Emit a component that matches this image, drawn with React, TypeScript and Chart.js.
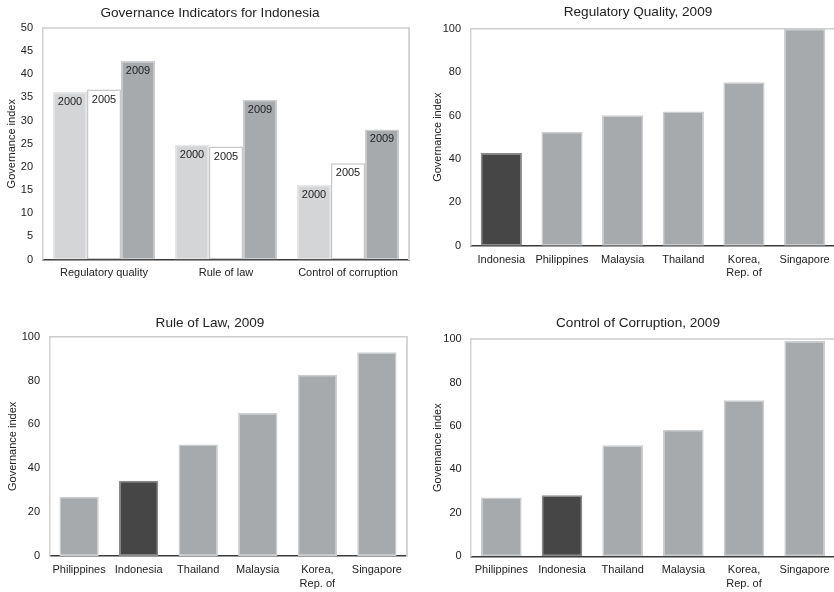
import React, { useEffect, useRef } from 'react';
import { Chart, registerables } from 'chart.js';

Chart.register(...registerables);

const FONT = "'Liberation Sans', Arial, Helvetica, sans-serif";
Chart.defaults.font.family = FONT;

// ---------- data ----------
const indicatorCategories = ['Regulatory quality', 'Rule of law', 'Control of corruption'];
const yearLabels = ['2000', '2005', '2009'];
const indonesia2000 = [36.2, 24.8, 16.1];
const indonesia2005 = [36.7, 24.4, 20.8];
const indonesia2009 = [42.9, 34.5, 28.1];
const indicatorTicks = [0, 5, 10, 15, 20, 25, 30, 35, 40, 45, 50];

const rqCountries: (string | string[])[] = ['Indonesia', 'Philippines', 'Malaysia', 'Thailand', ['Korea,', 'Rep. of'], 'Singapore'];
const rqValues = [42.7, 52.5, 60.1, 61.9, 75.3, 100];

const rolCountries: (string | string[])[] = ['Philippines', 'Indonesia', 'Thailand', 'Malaysia', ['Korea,', 'Rep. of'], 'Singapore'];
const rolValues = [27.0, 34.3, 50.9, 65.2, 82.7, 92.9];

const cocCountries: (string | string[])[] = ['Philippines', 'Indonesia', 'Thailand', 'Malaysia', ['Korea,', 'Rep. of'], 'Singapore'];
const cocValues = [27.1, 28.1, 51.1, 58.3, 71.8, 99.1];

const countryTicks = [0, 20, 40, 60, 80, 100];

// ---------- styles ----------
const C_LIGHT = '#d4d5d7';
const C_WHITE = '#ffffff';
const C_MID = '#a7aaad';
const C_DARK = '#464646';
const TITLE_SIZE = 13.6;

function countryColors(labels: (string | string[])[]) {
  return labels.map((l) => (l === 'Indonesia' ? C_DARK : C_MID));
}
function countryBorders(labels: (string | string[])[]) {
  return labels.map((l) => (l === 'Indonesia' ? '#8a8a8a' : '#cbcdcf'));
}

const framePlugin = {
  id: 'frameTop',
  beforeDatasetsDraw(chart: any) {
    const { ctx, chartArea: a } = chart;
    ctx.save();
    ctx.strokeStyle = '#cdcdcd';
    ctx.lineWidth = 1.5;
    ctx.beginPath();
    ctx.moveTo(a.left, a.top);
    ctx.lineTo(a.right, a.top);
    ctx.stroke();
    ctx.restore();
  },
};

const barLabelPlugin = {
  id: 'barLabels',
  afterDatasetsDraw(chart: any, _args: any, opts: any) {
    if (!opts || !opts.enabled) return;
    const { ctx } = chart;
    ctx.save();
    ctx.font = `11px ${FONT}`;
    ctx.fillStyle = '#222';
    ctx.textAlign = 'center';
    ctx.textBaseline = 'middle';
    chart.data.datasets.forEach((ds: any, i: number) => {
      const meta = chart.getDatasetMeta(i);
      meta.data.forEach((bar: any) => {
        ctx.fillText(ds.label, bar.x, bar.y + 10);
      });
    });
    ctx.restore();
  },
};

type Spec = {
  left: number;
  top: number;
  width: number;
  height: number;
  title: string;
  titlePadTop: number;
  titlePadBottom: number;
  yTitle: string;
  yTitlePad: number;
  yWidth: number;
  y2Width: number;
  xHeight: number;
  tickPad: number;
  yMax: number;
  yStep: number;
  labels: any[];
  datasets: any[];
  categoryPercentage: number;
  barPercentage: number;
  barLabels: boolean;
};

function Panel({ spec }: { spec: Spec }) {
  const ref = useRef<HTMLCanvasElement | null>(null);
  useEffect(() => {
    if (!ref.current) return;
    const chart = new Chart(ref.current, {
      type: 'bar',
      data: {
        labels: spec.labels,
        datasets: spec.datasets.map((d) => ({
          ...d,
          categoryPercentage: spec.categoryPercentage,
          barPercentage: spec.barPercentage,
          borderSkipped: false,
        })),
      },
      options: {
        responsive: false,
        animation: false,
        devicePixelRatio: 1,
        layout: { padding: 0 },
        plugins: {
          legend: { display: false },
          tooltip: { enabled: false },
          title: {
            display: true,
            text: spec.title,
            color: '#222',
            font: { size: TITLE_SIZE, weight: 'normal', family: FONT, lineHeight: 1.2 },
            padding: { top: spec.titlePadTop - 0.4, bottom: spec.titlePadBottom - 0.3 },
          },
          barLabels: { enabled: spec.barLabels },
        } as any,
        scales: {
          x: {
            grid: { display: false, drawTicks: false },
            border: { display: true, color: '#3a3a3a', width: 1.5 },
            ticks: {
              color: '#222',
              font: { size: 11, family: FONT, lineHeight: 1.25 },
              padding: 7,
              maxRotation: 0,
              autoSkip: false,
            },
            afterFit: (s: any) => {
              s.height = spec.xHeight;
            },
          },
          y: {
            min: 0,
            max: spec.yMax,
            grid: { display: false, drawTicks: false },
            border: { display: true, color: '#d2d2d2', width: 1.5 },
            ticks: {
              stepSize: spec.yStep,
              color: '#222',
              font: { size: 11, family: FONT },
              padding: spec.tickPad,
            },
            title: {
              display: true,
              text: spec.yTitle,
              color: '#222',
              font: { size: 11, family: FONT, lineHeight: 1.2 },
              padding: { top: spec.yTitlePad, bottom: 0 },
            },
            afterFit: (s: any) => {
              s.width = spec.yWidth;
            },
          },
          y2: {
            position: 'right',
            display: true,
            grid: { display: false, drawTicks: false },
            border: { display: true, color: '#d6d6d6', width: 2 },
            ticks: { display: false },
            afterFit: (s: any) => {
              s.width = spec.y2Width;
            },
          },
        },
      } as any,
      plugins: [framePlugin, barLabelPlugin],
    });
    return () => chart.destroy();
  }, []);
  return (
    <canvas
      ref={ref}
      width={spec.width}
      height={spec.height}
      style={{ position: 'absolute', left: spec.left, top: spec.top, width: spec.width, height: spec.height }}
    />
  );
}

const specs: Spec[] = [
  {
    left: 0,
    top: 0,
    width: 420,
    height: 292,
    title: 'Governance Indicators for Indonesia',
    titlePadTop: 5,
    titlePadBottom: 7.4,
    yTitle: 'Governance index',
    yTitlePad: 5,
    yWidth: 43,
    y2Width: 11,
    xHeight: 32.5,
    tickPad: 10,
    yMax: indicatorTicks[indicatorTicks.length - 1],
    yStep: indicatorTicks[1] - indicatorTicks[0],
    labels: indicatorCategories,
    datasets: [
      { label: yearLabels[0], data: indonesia2000, backgroundColor: C_LIGHT, borderColor: '#e4e5e6', borderWidth: 1.5 },
      { label: yearLabels[1], data: indonesia2005, backgroundColor: C_WHITE, borderColor: '#c8c8c8', borderWidth: 1.5 },
      { label: yearLabels[2], data: indonesia2009, backgroundColor: C_MID, borderColor: '#cbcdcf', borderWidth: 1.5 },
    ],
    categoryPercentage: 0.836,
    barPercentage: 1,
    barLabels: true,
  },
  {
    left: 420,
    top: 0,
    width: 436,
    height: 292,
    title: 'Regulatory Quality, 2009',
    titlePadTop: 4,
    titlePadBottom: 9.1,
    yTitle: 'Governance index',
    yTitlePad: 11.4,
    yWidth: 51,
    y2Width: 21,
    xHeight: 46.3,
    tickPad: 10,
    yMax: countryTicks[countryTicks.length - 1],
    yStep: countryTicks[1] - countryTicks[0],
    labels: rqCountries,
    datasets: [
      { label: 'Regulatory Quality', data: rqValues, backgroundColor: countryColors(rqCountries), borderColor: countryBorders(rqCountries), borderWidth: 1.5 },
    ],
    categoryPercentage: 1,
    barPercentage: 0.68,
    barLabels: false,
  },
  {
    left: 0,
    top: 300,
    width: 420,
    height: 292,
    title: 'Rule of Law, 2009',
    titlePadTop: 15.5,
    titlePadBottom: 5.6,
    yTitle: 'Governance index',
    yTitlePad: 6.7,
    yWidth: 49.3,
    y2Width: 13.3,
    xHeight: 36,
    tickPad: 9.3,
    yMax: countryTicks[countryTicks.length - 1],
    yStep: countryTicks[1] - countryTicks[0],
    labels: rolCountries,
    datasets: [
      { label: 'Rule of Law', data: rolValues, backgroundColor: countryColors(rolCountries), borderColor: countryBorders(rolCountries), borderWidth: 1.5 },
    ],
    categoryPercentage: 1,
    barPercentage: 0.66,
    barLabels: false,
  },
  {
    left: 420,
    top: 300,
    width: 436,
    height: 292,
    title: 'Control of Corruption, 2009',
    titlePadTop: 15.5,
    titlePadBottom: 7.9,
    yTitle: 'Govemance index',
    yTitlePad: 11.7,
    yWidth: 51,
    y2Width: 21,
    xHeight: 35.7,
    tickPad: 9.3,
    yMax: countryTicks[countryTicks.length - 1],
    yStep: countryTicks[1] - countryTicks[0],
    labels: cocCountries,
    datasets: [
      { label: 'Control of Corruption', data: cocValues, backgroundColor: countryColors(cocCountries), borderColor: countryBorders(cocCountries), borderWidth: 1.5 },
    ],
    categoryPercentage: 1,
    barPercentage: 0.67,
    barLabels: false,
  },
];

export default function App() {
  return (
    <div
      style={{
        position: 'absolute',
        left: 0,
        top: 0,
        width: 834,
        height: 592,
        overflow: 'hidden',
        background: '#ffffff',
      }}
    >
      {specs.map((s, i) => (
        <Panel key={i} spec={s} />
      ))}
    </div>
  );
}
